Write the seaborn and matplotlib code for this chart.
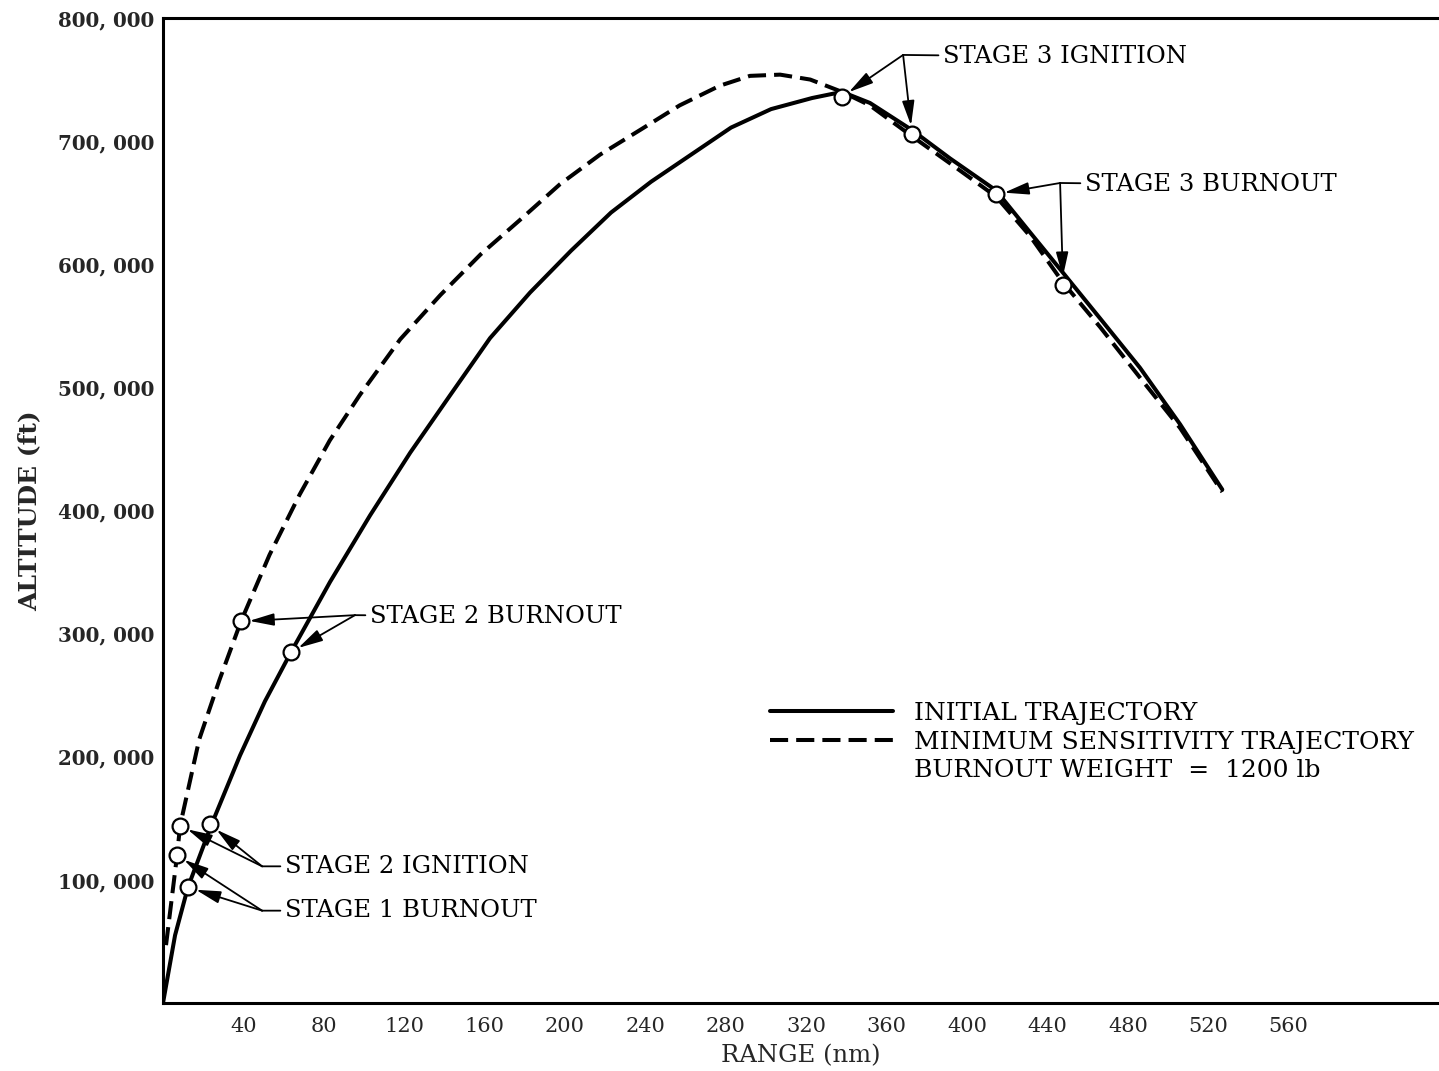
import matplotlib
matplotlib.use("Agg")
import matplotlib.pyplot as plt
from matplotlib.lines import Line2D
import seaborn as sns
import pandas as pd

# ---------------- data (range in nm, altitude in ft) ----------------
initial_range = [0, 6.0, 12.4, 24.4, 38.3, 50.7, 63.7, 83.1, 103, 123, 143, 162.7,
                 182.6, 203, 222.9, 242.8, 262.7, 282.6, 302.5, 322.9, 337.8, 351.7,
                 372.6, 391.5, 414.4, 431.3, 447.8, 466.2, 486, 506, 527]
initial_alt = [0, 55000, 94000, 146000, 201000, 245000, 285000, 342000, 396000, 447000,
               494000, 540000, 577000, 611000, 642000, 667000, 689000, 711000, 726000,
               735000, 740000, 731000, 709000, 686000, 660000, 626000, 593000, 556000,
               516000, 470000, 417000]

minsens_range = [1.5, 7, 8.5, 18, 28, 38.8, 53, 68, 83, 98, 118, 138, 158, 177.6,
                 197.5, 217.4, 237.3, 257, 277, 292, 307, 322, 337.8, 351.7, 372.6,
                 391.5, 414.4, 431.3, 447.8, 466.2, 486, 506, 527]
minsens_alt = [47000, 120000, 144000, 214000, 262000, 310000, 364000, 413000, 457000,
               494000, 539000, 575000, 608000, 636000, 665000, 689000, 709000, 729000,
               745000, 753000, 754000, 750000, 740000, 729000, 704000, 682000, 655000,
               623000, 585000, 549000, 508000, 467000, 415000]

# staging events (circles)
initial_event_range = [12.4, 23.4, 63.7, 372.6, 447.8]
initial_event_alt = [94000, 145000, 285000, 706000, 583000]
minsens_event_range = [7, 8.5, 38.8, 337.8, 414.4]
minsens_event_alt = [120000, 144000, 310000, 736000, 657000]

x_ticks = [40, 80, 120, 160, 200, 240, 280, 320, 360, 400, 440, 480, 520, 560]
y_ticks = [100000, 200000, 300000, 400000, 500000, 600000, 700000, 800000]

legend_labels = ["INITIAL TRAJECTORY", "MINIMUM SENSITIVITY TRAJECTORY",
                 "BURNOUT WEIGHT  =  1200 lb"]

# ---------------- styling ----------------
sns.set_theme(style="white")
plt.rcParams["font.family"] = ["DejaVu Serif", "DejaVu Sans"]
plt.rcParams["text.color"] = "black"

fig = plt.figure(figsize=(14.39, 10.71), dpi=100)
ax = fig.add_axes([163 / 1439, 1 - 1003 / 1071, (1439 - 163) / 1439, (1003 - 18) / 1071])

df_init = pd.DataFrame({"range": initial_range, "alt": initial_alt})
df_min = pd.DataFrame({"range": minsens_range, "alt": minsens_alt})

LW = 2.9
DASH = (0, (4.5, 2.0))
sns.lineplot(data=df_init, x="range", y="alt", sort=False, estimator=None,
             color="black", lw=LW, ax=ax)
sns.lineplot(data=df_min, x="range", y="alt", sort=False, estimator=None,
             color="black", lw=LW, linestyle=DASH, ax=ax)

events = pd.DataFrame({"range": initial_event_range + minsens_event_range,
                       "alt": initial_event_alt + minsens_event_alt})
sns.scatterplot(data=events, x="range", y="alt", s=130, facecolor="white",
                edgecolor="black", linewidth=1.6, zorder=5, ax=ax)

ax.set_xlim(0, 634.8)
ax.set_ylim(0, 800000)
ax.set_xticks(x_ticks)
ax.set_xticklabels([str(t) for t in x_ticks], fontsize=15)
ax.set_yticks(y_ticks)
ax.set_yticklabels([f"{t:,}".replace(",", ", ") for t in y_ticks], fontsize=14.3,
                   fontweight="bold")
ax.tick_params(axis="x", direction="in", length=15, width=1.6, color="black", pad=10)
ax.tick_params(axis="y", direction="in", length=15, width=1.6, color="black", pad=6)
ax.set_xlabel("RANGE (nm)", fontsize=17.5, labelpad=6)
ax.set_ylabel("ALTITUDE (ft)", fontsize=18, fontweight="bold", labelpad=12)

for side in ["left", "bottom", "top"]:
    ax.spines[side].set_visible(True)
    ax.spines[side].set_color("black")
    ax.spines[side].set_linewidth(2.2)
ax.spines["right"].set_visible(False)
ax.grid(False)

# ---------------- annotations ----------------
arrow_kw = dict(arrowstyle="-|>,head_length=1.0,head_width=0.25", mutation_scale=15,
                color="black", lw=1.3, shrinkA=0, shrinkB=6)
leader_kw = dict(arrowstyle="-", color="black", lw=1.3, shrinkA=1, shrinkB=0)

groups = [
    ("STAGE 3 IGNITION", (388.1, 768500), (368.2, 770000),
     [(337.8, 736000), (372.6, 706000)]),
    ("STAGE 3 BURNOUT", (458.7, 664500), (446.3, 666000),
     [(414.4, 657000), (447.8, 583000)]),
    ("STAGE 2 BURNOUT", (103.0, 314000), (95.5, 315000),
     [(38.8, 310000), (63.7, 285000)]),
    ("STAGE 2 IGNITION", (60.7, 111000), (49.3, 111000),
     [(8.5, 144000), (23.4, 145000)]),
    ("STAGE 1 BURNOUT", (60.7, 75000), (49.3, 75000),
     [(7, 120000), (12.4, 94000)]),
]
for label, tpos, junction, targets in groups:
    ax.annotate(label, xy=junction, xytext=tpos, fontsize=17.5, va="center",
                ha="left", arrowprops=leader_kw)
    for tgt in targets:
        ax.annotate("", xy=tgt, xytext=junction, arrowprops=arrow_kw)

# ---------------- legend ----------------
handles = [Line2D([], [], color="black", lw=LW),
           Line2D([], [], color="black", lw=LW, linestyle=DASH),
           Line2D([], [], linestyle="none")]
ax.legend(handles, legend_labels, loc="upper left",
          bbox_to_anchor=((770 - 163) / 1276, (1003 - 702) / 985),
          frameon=False, fontsize=18, handlelength=4.9, handletextpad=0.88,
          labelspacing=0.22, borderpad=0, borderaxespad=0)

fig.savefig("out.png", dpi=100)
